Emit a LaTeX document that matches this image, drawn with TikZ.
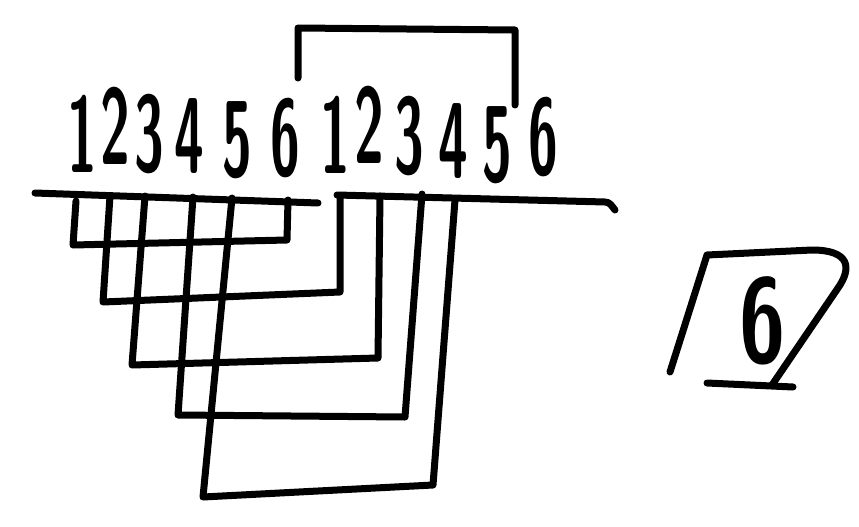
\documentclass[tikz,border=0pt]{standalone}
\usepackage{tikz}

\begin{document}
\begin{tikzpicture}[x=1pt,y=-1pt,
        ink/.style={black, line width=7pt, line cap=round, line join=round},
        digit/.style={font=\sffamily\bfseries\fontsize{108}{108}\selectfont, inner sep=0pt, anchor=base},
        bigdigit/.style={font=\sffamily\bfseries\fontsize{120}{120}\selectfont, inner sep=0pt, anchor=base}]
                \useasboundingbox (0,0) rectangle (859,527);
                % the two rows of digits
                \foreach \n/\x/\y in {1/82/172,2/115/164,3/149/171,4/189/173,5/237/176,6/285/175}
                    \node[digit] (a\n) at (\x,\y) {\scalebox{0.5}[1]{\n}};
                \foreach \n/\x/\y in {1/335/173,2/369/163,3/409/173,4/453/178,5/497/181,6/543/174}
                    \node[digit] (b\n) at (\x,\y) {\scalebox{0.5}[1]{\n}};
                % base line
                \draw[ink] (35,193) -- (318,203);
                \draw[ink] (337,195) -- (605,202) to[out=0,in=130] (615,210);
                \coordinate (ta1) at (76,201);
                \coordinate (ta2) at (110,196);
                \coordinate (ta3) at (145,196);
                \coordinate (ta4) at (193,197);
                \coordinate (ta5) at (232,198);
                \coordinate (ta6) at (288,200);
                \coordinate (tb1) at (340,198);
                \coordinate (tb2) at (380,196);
                \coordinate (tb3) at (422,194);
                \coordinate (tb4) at (455,200);
                % links below the line
                \draw[ink] (ta1) -- (73,245) -- (287,240) -- (ta6);
                \draw[ink] (ta2) -- (103,302) -- (340,292) -- (tb1);
                \draw[ink] (ta3) -- (132,365) -- (378,358) -- (tb2);
                \draw[ink] (ta4) -- (178,415) -- (405,417) -- (tb3);
                \draw[ink] (ta5) -- (203,497) -- (433,485) -- (tb4);
                % link above the digits
                \coordinate (ua) at (298,78);
                \coordinate (ub) at (515,105);
                \draw[ink] (ua) -- (298,28) -- (515,30) -- (ub);
                % boxed six
                \node[bigdigit] (c6) at (763,362) {\scalebox{0.7}[1]{6}};
                \draw[ink] (670,372) -- (707,255) -- (812,250) .. controls (850,250) and (852,268) .. (838,288) -- (772,385);
                \draw[ink] (707,383) -- (793,387);
            \end{tikzpicture}
\end{document}
